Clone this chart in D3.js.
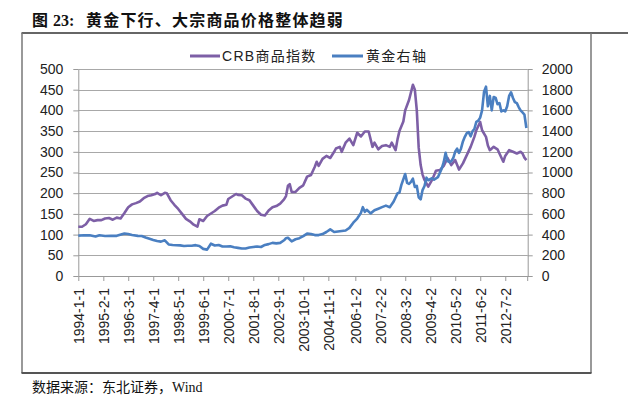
<!DOCTYPE html>
<html><head><meta charset="utf-8">
<script src="https://cdn.jsdelivr.net/npm/d3@7/dist/d3.min.js"></script>
<style>
html,body{margin:0;padding:0;background:#fff;}
svg{display:block;}
</style></head>
<body>
<svg id="chart" width="640" height="401"></svg>
<script>
// ---- data ----
const titleText = "黄金下行、大宗商品价格整体趋弱";
const seriesNames = ["CRB商品指数", "黄金右轴"];
const xTickLabels = ["1994-1-1","1995-2-1","1996-3-1","1997-4-1","1998-5-1","1999-6-1","2000-7-1","2001-8-1","2002-9-1","2003-10-1","2004-11-1","2006-1-2","2007-2-2","2008-3-2","2009-4-2","2010-5-2","2011-6-2","2012-7-2"];
const leftTicks = [0,50,100,150,200,250,300,350,400,450,500];
const rightTicks = [0,200,400,600,800,1000,1200,1400,1600,1800,2000];

const crbSeries = [
["1994-01",119],["1994-03",119],["1994-05",125],["1994-07",138],["1994-09",133],["1994-11",135],
["1995-01",135],["1995-03",139],["1995-05",140],["1995-07",136],["1995-09",141],["1995-11",139],
["1996-01",152],["1996-03",166],["1996-05",173],["1996-07",176],["1996-09",180],["1996-11",188],
["1997-01",193],["1997-03",195],["1997-05",198],["1997-06",201],["1997-08",195],["1997-10",201],["1997-11",200],
["1998-01",183],["1998-03",172],["1998-05",162],["1998-07",150],["1998-09",138],["1998-11",132],
["1999-01",124],["1999-03",119],["1999-04",137],["1999-06",133],["1999-08",145],["1999-10",151],["1999-12",157],
["2000-02",165],["2000-04",170],["2000-06",172],["2000-07",186],["2000-09",192],["2000-11",198],["2000-12",196],
["2001-02",195],["2001-04",187],["2001-06",183],["2001-08",170],["2001-10",157],["2001-12",148],
["2002-02",146],["2002-04",158],["2002-06",166],["2002-08",169],["2002-10",175],["2002-12",185],
["2003-01",193],["2003-02",218],["2003-03",222],["2003-04",203],["2003-06",203],["2003-08",213],["2003-10",219],["2003-12",240],
["2004-02",244],["2004-04",264],["2004-05",276],["2004-06",266],["2004-08",283],["2004-10",290],["2004-12",285],
["2005-02",300],["2005-03",308],["2005-05",312],["2005-06",300],["2005-08",322],["2005-10",332],["2005-12",316],
["2006-02",346],["2006-04",337],["2006-06",349],["2006-08",349],["2006-10",312],["2006-11",322],
["2007-01",306],["2007-03",314],["2007-05",316],["2007-07",312],["2007-08",322],["2007-10",304],["2007-11",330],["2007-12",350],
["2008-02",373],["2008-03",400],["2008-05",425],["2008-07",462],["2008-08",450],["2008-09",400],["2008-10",310],["2008-11",268],["2008-12",245],
["2009-01",232],["2009-03",216],["2009-05",232],["2009-07",254],["2009-09",256],["2009-11",266],
["2010-01",285],["2010-03",268],["2010-05",280],["2010-07",257],["2010-09",272],["2010-11",292],
["2011-01",312],["2011-03",336],["2011-04",352],["2011-06",372],["2011-07",352],["2011-09",336],["2011-10",315],["2011-11",304],
["2012-01",312],["2012-03",306],["2012-04",296],["2012-06",276],["2012-07",290],["2012-09",304],["2012-11",300],
["2013-01",296],["2013-03",300],["2013-04",296],["2013-05",286],["2013-06",280]
];

const goldSeries = [
["1994-01",390],["1994-04",393],["1994-07",393],["1994-10",382],["1994-12",394],
["1995-03",386],["1995-06",388],["1995-09",388],
["1996-01",410],["1996-03",405],["1996-05",396],["1996-08",388],["1996-10",386],["1996-12",372],
["1997-02",360],["1997-04",348],["1997-06",338],["1997-08",332],["1997-10",345],["1997-12",305],
["1998-02",300],["1998-04",297],["1998-06",296],["1998-08",290],["1998-10",293],["1998-12",292],
["1999-02",298],["1999-04",290],["1999-06",262],["1999-08",255],["1999-10",312],["1999-12",295],
["2000-02",300],["2000-04",285],["2000-06",285],["2000-08",288],["2000-10",278],["2000-12",272],
["2001-02",265],["2001-04",265],["2001-06",275],["2001-08",280],["2001-10",285],["2001-12",280],
["2002-02",300],["2002-04",308],["2002-06",320],["2002-08",315],["2002-10",320],["2002-12",345],
["2003-01",365],["2003-02",370],["2003-04",335],["2003-06",355],["2003-08",365],["2003-10",385],["2003-12",410],
["2004-02",405],["2004-04",395],["2004-06",395],["2004-08",405],["2004-10",425],["2004-12",450],
["2005-02",425],["2005-04",430],["2005-06",435],["2005-08",440],["2005-10",465],["2005-12",515],
["2006-02",555],["2006-04",610],["2006-05",665],["2006-06",620],["2006-07",640],["2006-09",605],["2006-11",635],
["2007-01",650],["2007-03",665],["2007-05",680],["2007-07",665],["2007-09",720],["2007-11",800],["2007-12",805],
["2008-01",880],["2008-03",985],["2008-04",900],["2008-05",890],["2008-06",910],["2008-07",940],["2008-08",860],["2008-09",870],["2008-10",760],["2008-11",740],["2008-12",830],
["2009-01",870],["2009-02",950],["2009-03",925],["2009-05",945],["2009-06",930],["2009-08",955],["2009-10",1040],["2009-11",1100],["2009-12",1190],
["2010-01",1110],["2010-02",1100],["2010-03",1110],["2010-04",1140],["2010-05",1200],["2010-06",1230],["2010-07",1190],["2010-08",1230],["2010-09",1300],["2010-10",1345],["2010-11",1380],["2010-12",1390],
["2011-01",1350],["2011-02",1400],["2011-03",1420],["2011-04",1490],["2011-05",1500],["2011-06",1530],["2011-07",1600],["2011-08",1780],["2011-09",1830],["2011-10",1640],["2011-11",1740],["2011-12",1600],
["2012-01",1730],["2012-02",1720],["2012-03",1660],["2012-04",1670],["2012-05",1590],["2012-06",1600],["2012-07",1590],["2012-08",1640],["2012-09",1740],["2012-10",1775],["2012-11",1720],["2012-12",1680],
["2013-01",1670],["2013-02",1630],["2013-03",1600],["2013-04",1580],["2013-05",1560],["2013-06",1430]
];

// ---- drawing ----
const svg = d3.select("#chart");
const parseMonth = d3.timeParse("%Y-%m");
const parseTick = d3.timeParse("%Y-%-m-%-d");
const plot = {left: 78.3, right: 527.7, top: 69, bottom: 276};
const purple = "#7d5fa6", blue = "#4a7fc1";
const latin = "'Liberation Sans', Arial, 'Noto Sans CJK SC', sans-serif";
const serif = "'Liberation Serif', 'Times New Roman', 'Noto Sans CJK SC', serif";

const x = d3.scaleTime()
  .domain([new Date(1994,0,1), new Date(2013,5,22)])
  .range([plot.left, plot.right]);
const yL = d3.scaleLinear().domain([0,500]).range([plot.bottom, plot.top]);
const yR = d3.scaleLinear().domain([0,2000]).range([plot.bottom, plot.top]);

// title
svg.append("text").attr("x",32).attr("y",26)
  .style("font-family", serif).style("font-size","16px").style("font-weight","bold").attr("fill","#111")
  .text("图");
svg.append("text").attr("x",53).attr("y",26)
  .style("font-family", serif).style("font-size","16px").style("font-weight","bold").attr("fill","#111")
  .text("23:");
svg.append("text").attr("x",86).attr("y",26)
  .style("font-family", serif).style("font-size","16px").style("font-weight","bold")
  .style("letter-spacing","1.2px").attr("fill","#111")
  .text(titleText);

// frame
svg.append("line").attr("x1",21.5).attr("x2",628).attr("y1",33).attr("y2",33)
  .attr("stroke","#333").attr("stroke-width",1.5);
svg.append("line").attr("x1",22).attr("x2",22).attr("y1",33).attr("y2",373)
  .attr("stroke","#777").attr("stroke-width",1.5);
svg.append("line").attr("x1",591).attr("x2",591).attr("y1",33).attr("y2",373)
  .attr("stroke","#777").attr("stroke-width",1.5);
svg.append("line").attr("x1",21.5).attr("x2",591.5).attr("y1",373).attr("y2",373)
  .attr("stroke","#555").attr("stroke-width",2);

// gridlines
svg.append("g").selectAll("line").data(leftTicks.filter(d=>d>0)).join("line")
  .attr("x1",plot.left).attr("x2",plot.right)
  .attr("y1",d=>Math.round(yL(d))+0.5).attr("y2",d=>Math.round(yL(d))+0.5)
  .attr("stroke","#a8a8a8").attr("stroke-width",1);

// axes
function styleAxis(g){
  g.select(".domain").attr("stroke","#999");
  g.selectAll(".tick line").attr("stroke","#999");
  g.selectAll("text").attr("fill","#222").style("font-family",latin).style("font-size","14px");
}
svg.append("g").attr("transform",`translate(${plot.left},0)`)
  .call(d3.axisLeft(yL).tickValues(leftTicks).tickFormat(d3.format("d")).tickSize(5).tickPadding(10).tickSizeOuter(0))
  .call(styleAxis);
svg.append("g").attr("transform",`translate(${plot.right},0)`)
  .call(d3.axisRight(yR).tickValues(rightTicks).tickFormat(d3.format("d")).tickSize(5).tickPadding(9).tickSizeOuter(0))
  .call(styleAxis);
const xTickDates = xTickLabels.map(parseTick);
const xAxis = svg.append("g").attr("transform",`translate(0,${plot.bottom})`)
  .call(d3.axisBottom(x).tickValues(xTickDates).tickSize(5).tickSizeOuter(0)
    .tickFormat((d,i)=>xTickLabels[i]))
  .call(styleAxis);
xAxis.selectAll(".tick text")
  .attr("transform","rotate(-90)")
  .attr("text-anchor","end")
  .attr("x",-12).attr("y",0).attr("dy","0.36em")
  .style("font-size","14px");
// right end tick of the category axis
svg.append("line").attr("x1",plot.right).attr("x2",plot.right)
  .attr("y1",plot.bottom).attr("y2",plot.bottom+5).attr("stroke","#999");

// lines
const lineL = d3.line().x(d=>x(parseMonth(d[0]))).y(d=>yL(d[1]));
const lineR = d3.line().x(d=>x(parseMonth(d[0]))).y(d=>yR(d[1]));
svg.append("path").datum(crbSeries).attr("d",lineL)
  .attr("fill","none").attr("stroke",purple).attr("stroke-width",2.6).attr("stroke-linejoin","round");
svg.append("path").datum(goldSeries).attr("d",lineR)
  .attr("fill","none").attr("stroke",blue).attr("stroke-width",2.6).attr("stroke-linejoin","round");

// legend
const legend = [
  {name: seriesNames[0], color: purple, x1: 190, x2: 220, tx: 222},
  {name: seriesNames[1], color: blue, x1: 332, x2: 363, tx: 366}
];
const lg = svg.append("g");
lg.selectAll("line").data(legend).join("line")
  .attr("x1",d=>d.x1).attr("x2",d=>d.x2).attr("y1",56).attr("y2",56)
  .attr("stroke",d=>d.color).attr("stroke-width",3);
lg.selectAll("text").data(legend).join("text")
  .attr("x",d=>d.tx).attr("y",61)
  .style("font-family",latin).style("font-size","14px").style("letter-spacing","1.3px").attr("fill","#222")
  .text(d=>d.name);

// source
svg.append("text").attr("x",32).attr("y",392)
  .style("font-family",serif).style("font-size","14px").attr("fill","#111")
  .text("数据来源：东北证券，Wind");
</script>
</body></html>
